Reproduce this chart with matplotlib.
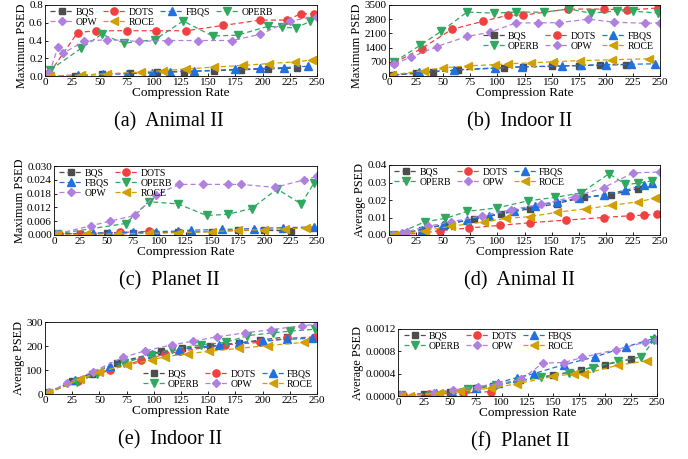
import matplotlib
matplotlib.use("Agg")
import matplotlib.pyplot as plt
from matplotlib.ticker import FormatStrFormatter

plt.rcParams['font.family'] = ['Liberation Serif', 'DejaVu Serif']

methods = ['BQS', 'DOTS', 'FBQS', 'OPERB', 'OPW', 'ROCE']
colors = ['#4d4d4d', '#f04040', '#2070e0', '#30a860', '#b080e0', '#d0a000']
markers = ['s', 'o', '^', 'v', 'D', '<']
msizes = [4.8, 5.2, 5.2, 5.2, 4.4, 5.2]

# (a) Animal II - Maximum PSED
a_x = {
    'BQS': [5, 28, 52, 78, 103, 128, 155, 180, 205, 232],
    'DOTS': [4, 30, 47, 75, 102, 130, 164, 198, 222, 235, 247],
    'FBQS': [5, 30, 53, 75, 98, 115, 137, 175, 198, 220, 242],
    'OPERB': [5, 33, 52, 73, 101, 127, 154, 177, 205, 218, 231, 244],
    'OPW': [4, 12, 17, 36, 57, 86, 113, 141, 172, 198, 225, 250],
    'ROCE': [5, 33, 57, 88, 108, 130, 155, 182, 206, 230, 245],
}
a_y = {
    'BQS': [0.0, 0.005, 0.02, 0.03, 0.04, 0.05, 0.06, 0.07, 0.08, 0.09],
    'DOTS': [0.03, 0.49, 0.51, 0.51, 0.51, 0.51, 0.57, 0.63, 0.63, 0.70, 0.70],
    'FBQS': [0.0, 0.01, 0.02, 0.025, 0.035, 0.05, 0.055, 0.075, 0.085, 0.095, 0.11],
    'OPERB': [0.07, 0.31, 0.47, 0.37, 0.41, 0.62, 0.45, 0.46, 0.56, 0.55, 0.54, 0.62],
    'OPW': [0.03, 0.33, 0.26, 0.39, 0.41, 0.39, 0.40, 0.40, 0.40, 0.47, 0.62, 0.67],
    'ROCE': [0.0, 0.01, 0.025, 0.045, 0.06, 0.08, 0.10, 0.12, 0.14, 0.16, 0.18],
}

# (b) Indoor II - Maximum PSED
b_x = {
    'BQS': [4, 25, 41, 64, 106, 124, 150, 175, 195, 219],
    'DOTS': [5, 30, 58, 87, 110, 124, 165, 198, 220, 248],
    'FBQS': [5, 28, 60, 98, 123, 160, 177, 200, 223, 245],
    'OPERB': [5, 29, 48, 72, 97, 117, 143, 166, 186, 210, 225, 248],
    'OPW': [5, 20, 44, 72, 93, 117, 137, 157, 184, 208, 236, 250],
    'ROCE': [3, 32, 50, 73, 98, 110, 131, 151, 176, 206, 240],
}
b_y = {
    'BQS': [40, 130, 210, 290, 410, 460, 480, 510, 540, 560],
    'DOTS': [650, 1350, 2300, 2700, 3000, 3000, 3300, 3300, 3250, 3350],
    'FBQS': [50, 180, 300, 400, 450, 490, 530, 560, 580, 600],
    'OPERB': [700, 1520, 2200, 3150, 3100, 3150, 3150, 3300, 3100, 3200, 3200, 3100],
    'OPW': [600, 920, 1450, 1950, 2150, 2620, 2620, 2630, 2800, 2650, 2600, 2620],
    'ROCE': [50, 270, 400, 500, 560, 600, 650, 700, 760, 800, 850],
}

# (c) Planet II - Maximum PSED
c_x = {
    'BQS': [3, 25, 50, 75, 92, 118, 150, 175, 200, 225],
    'DOTS': [5, 25, 63, 90],
    'FBQS': [3, 37, 52, 75, 97, 118, 130, 160, 190, 218, 247],
    'OPERB': [3, 68, 90, 118, 145, 165, 188, 212, 235, 247],
    'OPW': [3, 35, 53, 77, 97, 119, 142, 165, 178, 210, 238, 250],
    'ROCE': [3, 30, 60, 90, 118, 150, 175, 200, 220, 240],
}
c_y = {
    'BQS': [0.0005, 0.0005, 0.0008, 0.001, 0.001, 0.0012, 0.0015, 0.002, 0.002, 0.0018],
    'DOTS': [0.0005, 0.0006, 0.0011, 0.0016],
    'FBQS': [0.0005, 0.0008, 0.001, 0.0012, 0.0015, 0.0017, 0.0021, 0.0024, 0.0028, 0.0032, 0.0035],
    'OPERB': [0.0005, 0.005, 0.0145, 0.0135, 0.0085, 0.009, 0.0115, 0.020, 0.0135, 0.0225],
    'OPW': [0.0005, 0.004, 0.006, 0.0085, 0.0175, 0.022, 0.022, 0.022, 0.022, 0.0207, 0.024, 0.0255],
    'ROCE': [0.0, 0.0003, 0.0005, 0.0007, 0.001, 0.0015, 0.002, 0.0023, 0.0027, 0.003],
}

# (d) Animal II - Average PSED
d_x = {
    'BQS': [5, 30, 52, 78, 103, 130, 155, 180, 205, 230],
    'DOTS': [5, 30, 47, 74, 102, 130, 163, 198, 222, 235, 247],
    'FBQS': [5, 30, 50, 72, 92, 115, 135, 155, 175, 198, 218, 235, 243],
    'OPERB': [5, 33, 52, 72, 100, 128, 153, 177, 203, 218, 230, 243],
    'OPW': [4, 12, 17, 36, 57, 86, 113, 140, 172, 198, 225, 250],
    'ROCE': [5, 33, 57, 88, 108, 130, 155, 182, 206, 230, 245],
}
d_y = {
    'BQS': [0.0, 0.003, 0.006, 0.009, 0.012, 0.015, 0.018, 0.0215, 0.023, 0.0265],
    'DOTS': [0.0, 0.001, 0.0025, 0.004, 0.0055, 0.007, 0.0085, 0.010, 0.011, 0.0113, 0.0118],
    'FBQS': [0.0, 0.003, 0.006, 0.0085, 0.011, 0.014, 0.0165, 0.019, 0.021, 0.023, 0.0255, 0.0285, 0.0295],
    'OPERB': [0.0, 0.0075, 0.0095, 0.0135, 0.0155, 0.0195, 0.0215, 0.024, 0.035, 0.029, 0.0295, 0.031],
    'OPW': [0.0, 0.001, 0.002, 0.005, 0.0075, 0.011, 0.0145, 0.0175, 0.022, 0.027, 0.0355, 0.036],
    'ROCE': [0.0, 0.0025, 0.005, 0.0075, 0.0095, 0.0105, 0.013, 0.015, 0.017, 0.019, 0.021],
}

# (e) Indoor II - Average PSED
e_x = {
    'BQS': [3, 25, 43, 66, 107, 126, 152, 178, 198, 222],
    'DOTS': [3, 30, 60, 88, 110, 124, 165, 198, 222, 248],
    'FBQS': [3, 28, 60, 98, 123, 160, 178, 200, 222, 245],
    'OPERB': [3, 29, 48, 73, 97, 117, 143, 166, 186, 210, 225, 248],
    'OPW': [4, 20, 44, 72, 92, 117, 136, 158, 184, 208, 236, 250],
    'ROCE': [3, 32, 50, 75, 98, 110, 131, 151, 178, 205, 238],
}
e_y = {
    'BQS': [5, 55, 85, 130, 178, 190, 200, 212, 225, 238],
    'DOTS': [5, 55, 100, 140, 165, 178, 205, 215, 232, 238],
    'FBQS': [5, 60, 118, 165, 185, 203, 213, 222, 228, 232],
    'OPERB': [5, 52, 82, 130, 162, 188, 205, 215, 243, 255, 262, 270],
    'OPW': [8, 45, 93, 153, 180, 205, 220, 238, 255, 268, 285, 290],
    'ROCE': [5, 62, 92, 120, 142, 155, 168, 178, 190, 202, 215],
}

# (f) Planet II - Average PSED
f_x = {
    'BQS': [3, 25, 50, 75, 92, 118, 150, 177, 200, 225],
    'DOTS': [5, 30, 63, 90],
    'FBQS': [3, 37, 52, 75, 97, 115, 131, 160, 190, 220, 247],
    'OPERB': [3, 68, 95, 118, 138, 165, 188, 212, 235, 247],
    'OPW': [3, 35, 53, 77, 97, 119, 140, 160, 178, 210, 238, 250],
    'ROCE': [3, 12, 40, 60, 90, 115, 150, 170, 180, 212, 240],
}
f_y = {
    'BQS': [0.00001, 0.00004, 0.00008, 0.00014, 0.00018, 0.00028, 0.00037, 0.00047, 0.00056, 0.00066],
    'DOTS': [0.00001, 0.00003, 0.00005, 0.00008],
    'FBQS': [0.00001, 0.00005, 0.00008, 0.00015, 0.00024, 0.00033, 0.0004, 0.00056, 0.0007, 0.00088, 0.00103],
    'OPERB': [0.00001, 0.00013, 0.0002, 0.00027, 0.00034, 0.00042, 0.00051, 0.00062, 0.0007, 0.001],
    'OPW': [0.00001, 0.00005, 0.00011, 0.00017, 0.00022, 0.0003, 0.00059, 0.0006, 0.00069, 0.00083, 0.00096, 0.001],
    'ROCE': [0.0, 0.0, 0.00005, 0.00009, 0.00014, 0.00022, 0.00035, 0.0004, 0.0004, 0.00055, 0.00063],
}

W, H = 688, 459
fig = plt.figure(figsize=(W / 100, H / 100), dpi=100)


def px_rect(x0, y0, x1, y1):
    return [x0 / W, 1 - y1 / H, (x1 - x0) / W, (y1 - y0) / H]


panels = [
    # xs, ys, box(px), ylabel, ymax, ystep, fmt, caption, caption x(px), ncol, legend kwargs
    (a_x, a_y, (45, 5, 317, 76), 'Maximum PSED', 0.8, 0.2, '%.1f', '(a)  Animal II', 169, 4,
     dict(loc='upper left', bbox_to_anchor=(-0.005, 1.06))),
    (b_x, b_y, (389, 5, 660, 76), 'Maximum PSED', 3500, 700, '%d', '(b)  Indoor II', 520, 3,
     dict(loc='center right', bbox_to_anchor=(1.0, 0.49))),
    (c_x, c_y, (54, 166, 317, 235), 'Maximum PSED', 0.030, 0.006, '%.3f', '(c)  Planet II', 169, 2,
     dict(loc='upper left', bbox_to_anchor=(-0.005, 1.06))),
    (d_x, d_y, (389, 165, 660, 235), 'Average PSED', 0.04, 0.01, '%.2f', '(d)  Animal II', 519, 3,
     dict(loc='upper left', bbox_to_anchor=(-0.005, 1.06))),
    (e_x, e_y, (45, 322, 317, 394), 'Average PSED', 300, 100, '%d', '(e)  Indoor II', 170, 3,
     dict(loc='lower right', bbox_to_anchor=(1.01, -0.02))),
    (f_x, f_y, (398, 329, 657, 396), 'Average PSED', 0.0012, 0.0004, '%.4f', '(f)  Planet II', 520, 3,
     dict(loc='upper left', bbox_to_anchor=(-0.005, 1.06))),
]

for xs, ys, box, ylab, ymax, ystep, fmt, cap, capx, ncol, leg in panels:
    ax = fig.add_axes(px_rect(*box))
    lines = []
    for m, c, mk, ms in zip(methods, colors, markers, msizes):
        ln, = ax.plot(xs[m], ys[m], linestyle='--', color=c, marker=mk, markersize=ms,
                      linewidth=0.9, label=m, dashes=(4, 2.5))
        lines.append(ln)
    ax.set_xlim(0, 250)
    ax.set_ylim(0, ymax)
    ax.set_xticks(range(0, 251, 25))
    n = int(round(ymax / ystep))
    ax.set_yticks([i * ystep for i in range(n + 1)])
    ax.yaxis.set_major_formatter(FormatStrFormatter(fmt))
    ax.tick_params(direction='in', labelsize=8, length=2.5, pad=1.5, width=0.6)
    for s in ax.spines.values():
        s.set_linewidth(0.6)
    ax.set_xlabel('Compression Rate', fontsize=9.5, labelpad=0)
    ax.set_ylabel(ylab, fontsize=8.8, labelpad=1)
    if box[1] < 20:
        # keep the top-row label inside the figure
        ax.yaxis.label.set_y(0.42)
    # legend is filled row by row in the reference
    order = [i for j in range(ncol) for i in range(len(lines)) if i % ncol == j]
    ax.legend([lines[i] for i in order], [methods[i] for i in order], ncol=ncol,
              frameon=False, fontsize=7, handlelength=2.3, handletextpad=0.3,
              columnspacing=0.6, labelspacing=0.1, borderpad=0.2, **leg)
    fig.text(capx / W, 1 - (box[3] + 46) / H, cap, ha='center', va='center', fontsize=14.5)

fig.savefig('out.png', dpi=100)
